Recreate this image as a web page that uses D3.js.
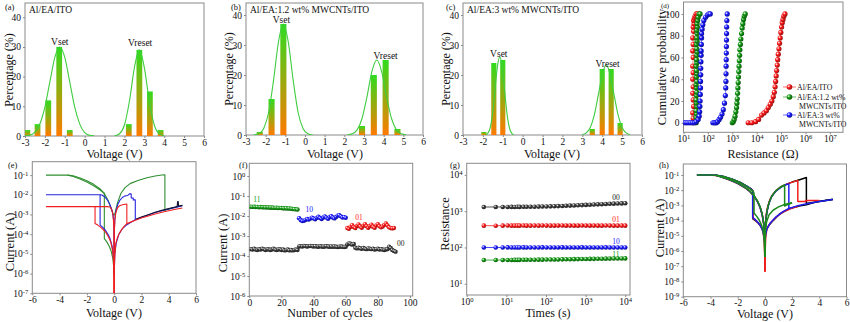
<!DOCTYPE html>
<html>
<head>
<meta charset="utf-8">
<script src="https://cdn.jsdelivr.net/npm/d3@7/dist/d3.min.js"></script>
<style>
body { margin: 0; background: #fff; }
svg { display: block; }
</style>
</head>
<body>
<svg id="chart" width="850" height="322"></svg>
<script>
/* DATA
 */

// (a)-(c) switching voltage histograms, [voltage, percentage]
const voltageTicks = [-3, -2, -1, 0, 1, 2, 3, 4, 5, 6];
const percentTicks = [0, 10, 20, 30, 40];

const barsA = [[-2.88, 2], [-2.37, 4], [-1.83, 12], [-1.28, 30], [-0.75, 2],
               [2.22, 4], [2.75, 29], [3.28, 15], [3.82, 2]];
const fitSetA = [[-3, 0.1], [-2.75, 0.3], [-2.5, 1.3], [-2.25, 4.1], [-2, 9.7], [-1.75, 18.2],
                 [-1.5, 26.5], [-1.25, 30], [-1, 26.5], [-0.75, 18.2], [-0.5, 9.7],
                 [-0.25, 4.1], [0, 1.1], [0.25, 0.2], [0.5, 0]];
const fitResetA = [[1.5, 0], [1.75, 0.75], [2, 3.7], [2.25, 11.7], [2.5, 23], [2.75, 29],
                   [3, 23], [3.25, 11.7], [3.5, 3.7], [3.75, 0.75], [4, 0.1]];
const peakTextA = [["Vset", -1.25, 30.6], ["Vreset", 2.79, 30.3]];

const barsB = [[-2.3, 1], [-1.7, 12], [-1.1, 37], [2.9, 3], [3.5, 20], [4.1, 25], [4.7, 2]];
const fitSetB = [[-2.6, 0.05], [-2.35, 0.4], [-2.1, 2.2], [-1.85, 7.5], [-1.6, 18.2], [-1.35, 31],
                 [-1.1, 37], [-0.85, 31], [-0.6, 18.2], [-0.35, 7.5], [-0.1, 2.2],
                 [0.15, 0.4], [0.4, 0]];
const fitResetB = [[2.15, 0.1], [2.4, 0.4], [2.65, 1.7], [2.9, 5.5], [3.15, 12.7], [3.4, 21.1],
                   [3.65, 25], [3.9, 21.1], [4.15, 12.7], [4.4, 5.5], [4.65, 1.7],
                   [4.9, 0.4], [5.15, 0.1]];
const peakTextB = [["Vset", -1.2, 37.5], ["Vreset", 4.1, 25.3]];

const barsC = [[-1.95, 1], [-1.45, 24], [-1.0, 25], [3.5, 2], [4.0, 22], [4.45, 22], [4.9, 4]];
const fitSetC = [[-1.85, 0], [-1.75, 0.6], [-1.65, 2], [-1.55, 5.3], [-1.45, 10.9], [-1.35, 17.9],
                 [-1.25, 23.7], [-1.15, 26], [-1.05, 23.7], [-0.95, 17.9], [-0.85, 10.9],
                 [-0.75, 5.3], [-0.65, 2], [-0.55, 0.6], [-0.45, 0]];
const fitResetC = [[3.0, 0.15], [3.2, 0.7], [3.4, 2.5], [3.6, 6.6], [3.8, 13.2], [4.0, 20],
                   [4.2, 23.5], [4.4, 20], [4.6, 13.2], [4.8, 6.6], [5.0, 2.5],
                   [5.2, 0.7], [5.4, 0.15]];
const peakTextC = [["Vset", -1.2, 26], ["Vreset", 4.27, 22.7]];

// (d) cumulative probability, [resistance ohm, percent]
const resistanceTicks = [1e1, 1e2, 1e3, 1e4, 1e5, 1e6, 1e7];
const probTicks = [0, 20, 40, 60, 80, 100];
const dRedLRS = [[25, 0], [25, 4], [24, 9], [26, 15], [25, 21], [24, 27], [25, 33], [24, 40],
                 [25, 46], [24, 52], [25, 60], [24, 66], [25, 72], [24, 78], [26, 84], [25, 88],
                 [27, 91], [26, 94], [28, 96], [30, 98], [33, 100], [38, 100], [44, 100]];
const dRedHRS = [[4500, 0], [6300, 0], [9000, 1], [12000, 3], [16000, 7], [20000, 9], [25000, 11],
                 [30000, 14], [36000, 17], [42000, 20], [48000, 24], [53000, 28], [57000, 33],
                 [60000, 38], [63000, 43], [66000, 48], [70000, 53], [73000, 58], [77000, 63],
                 [82000, 68], [87000, 73], [92000, 78], [98000, 83], [105000, 88], [112000, 92],
                 [120000, 95], [130000, 98], [145000, 100]];
const dGreenLRS = [[33, 0], [35, 2], [33, 5], [34, 8], [33, 11], [35, 15], [34, 18], [33, 21],
                   [34, 25], [35, 28], [34, 32], [33, 35], [35, 38], [34, 42], [35, 45], [34, 48],
                   [33, 52], [35, 55], [34, 58], [35, 62], [36, 65], [35, 68], [34, 72], [36, 75],
                   [35, 78], [36, 82], [35, 85], [37, 88], [36, 91], [38, 94], [40, 97], [44, 100], [48, 100]];
const dGreenHRS = [[1000, 0], [1100, 1], [1200, 3], [1300, 6], [1400, 10], [1500, 14], [1550, 18],
                   [1600, 22], [1650, 27], [1700, 32], [1750, 37], [1800, 42], [1850, 47], [1900, 52],
                   [1950, 57], [2000, 62], [2050, 67], [2150, 72], [2250, 77], [2400, 82], [2550, 87],
                   [2700, 91], [2900, 95], [3100, 98], [3400, 100]];
const dBlueLRS = [[7, 0], [8.5, 0], [10, 0], [12, 0], [14, 0], [17, 0], [20, 0], [24, 0], [28, 0],
                  [33, 1], [40, 3], [44, 6], [46, 10], [47, 15], [48, 20], [49, 26], [50, 32],
                  [50, 38], [51, 44], [51, 50], [52, 56], [53, 62], [53, 66], [54, 72], [55, 78],
                  [55, 82], [58, 86], [62, 90], [68, 94], [80, 97], [95, 99], [110, 100], [125, 100]];
const dBlueHRS = [[160, 0], [180, 0], [200, 0], [220, 0], [250, 1], [290, 3], [330, 5], [380, 8],
                  [430, 12], [480, 18], [520, 25], [540, 32], [550, 38], [555, 45], [560, 52],
                  [565, 58], [570, 64], [575, 70], [580, 76], [585, 82], [590, 88], [600, 94], [620, 100]];
const dLegend = ["Al/EA/ITO", "Al/EA:1.2 wt%", "MWCNTs/ITO", "Al/EA:3 wt%", "MWCNTs/ITO"];

// (e) I-V sweeps, [voltage, current A]
const ivVoltageTicks = [-6, -4, -2, 0, 2, 4, 6];
const eCurrentTicks = [1e-7, 1e-6, 1e-5, 1e-4, 1e-3, 1e-2, 1e-1];
const eGreenA = [[-5, 0.1], [-3.4, 0.1], [-3, 0.092], [-2.5, 0.072], [-2, 0.051], [-1.5, 0.034],
                 [-1, 0.019], [-0.7, 0.011], [-0.42, 4.8e-3], [-0.2, 1.8e-3], [-0.08, 1.1e-3], [0, 9e-4]];
const eGreenB = [[-3.4, 0.1], [-3, 0.084], [-2.5, 0.063], [-2, 0.045], [-1.5, 0.029], [-1, 0.017],
                 [-0.72, 0.012], [-0.72, 6e-5], [-0.55, 4.2e-5], [-0.38, 2.6e-5], [-0.22, 1.4e-5],
                 [-0.1, 6e-6], [-0.03, 2e-6], [0, 8e-7]];
const eGreenC = [[0, 9e-4], [0.05, 1.1e-3], [0.12, 1.7e-3], [0.25, 4e-3], [0.5, 1.2e-2], [0.8, 2.3e-2],
                 [1.2, 3.8e-2], [1.8, 5.5e-2], [2.4, 7.4e-2], [3, 9e-2], [3.5, 0.101], [3.72, 0.105],
                 [3.72, 1.65e-3], [4.2, 2.1e-3], [4.6, 2.5e-3], [5, 2.9e-3]];
const eBlueA = [[-5, 1e-2], [-3, 1e-2], [-1.03, 1e-2], [-0.9, 9.8e-3], [-0.7, 8e-3], [-0.5, 5.5e-3],
                [-0.35, 3.6e-3], [-0.22, 2.2e-3], [-0.12, 1.3e-3], [-0.05, 6e-4], [-0.015, 1.5e-4], [0, 5e-6]];
const eBlueB = [[-1.03, 1e-2], [-1.03, 2.9e-4], [-0.85, 2.3e-4], [-0.65, 1.6e-4], [-0.45, 1e-4],
                [-0.3, 6e-5], [-0.15, 2.5e-5], [-0.06, 8e-6], [0, 1e-6]];
const eBlueC = [[0, 5e-6], [0.015, 1.5e-4], [0.05, 6e-4], [0.12, 1.4e-3], [0.25, 3e-3], [0.4, 5e-3],
                [0.6, 7.3e-3], [0.8, 8.8e-3], [1.0, 9.3e-3], [1.15, 1.15e-2], [1.25, 1.1e-2],
                [1.25, 7e-3], [1.4, 6.8e-3], [1.4, 5.5e-3], [1.55, 5.5e-3], [1.55, 5.5e-4],
                [2, 7.2e-4], [2.5, 9.5e-4], [3, 1.25e-3], [3.5, 1.55e-3], [4, 1.9e-3], [4.5, 2.3e-3], [5, 2.8e-3]];
const eBlueD = [[0, 1e-6], [0.05, 1e-5], [0.15, 3.5e-5], [0.35, 1e-4], [0.6, 1.9e-4], [0.9, 2.9e-4],
                [1.2, 3.9e-4], [1.55, 5.5e-4]];
const eRedA = [[-5, 2.5e-3], [-3, 2.5e-3], [-1.4, 2.5e-3], [-0.5, 2.5e-3], [-0.3, 2.4e-3], [-0.18, 1.8e-3],
               [-0.1, 1.1e-3], [-0.05, 5e-4], [-0.02, 1.5e-4], [0, 1e-7]];
const eRedB = [[-1.4, 2.5e-3], [-1.4, 3.5e-4], [-1.2, 2.9e-4], [-1.0, 2.3e-4], [-0.8, 1.7e-4],
               [-0.6, 1.2e-4], [-0.4, 7e-5], [-0.25, 4e-5], [-0.12, 1.6e-5], [-0.05, 5e-6],
               [-0.02, 1e-6], [0, 1e-7]];
const eRedC = [[0, 1e-7], [0.02, 1.5e-4], [0.05, 5e-4], [0.12, 1.2e-3], [0.25, 2.2e-3], [0.4, 2.8e-3],
               [0.6, 3.1e-3], [0.8, 3.3e-3], [0.93, 3.4e-3], [0.93, 3.4e-4], [1.2, 4.1e-4],
               [1.6, 5.3e-4], [2, 6.6e-4], [2.5, 8.4e-4], [3, 1.05e-3], [3.5, 1.3e-3], [4, 1.55e-3],
               [4.5, 1.85e-3], [5, 2.15e-3]];
const eRedD = [[0, 1e-7], [0.02, 2e-6], [0.05, 8e-6], [0.12, 3.4e-5], [0.25, 7e-5], [0.37, 1.07e-4],
               [0.55, 1.7e-4], [0.73, 2.5e-4], [0.93, 3.4e-4]];
const eBlack = [[1.6, 5.7e-4], [2, 7.4e-4], [2.5, 9.8e-4], [3, 1.3e-3], [3.5, 1.62e-3], [4, 1.98e-3],
                [4.5, 2.4e-3], [4.62, 2.5e-3], [4.65, 4.6e-3], [4.7, 4.6e-3], [4.72, 2.6e-3], [5, 2.9e-3]];

// (f) endurance, current per cycle
const cycleTicks = [0, 20, 40, 60, 80, 100];
const fCurrentTicks = [1e-6, 1e-5, 1e-4, 1e-3, 1e-2, 1e-1, 1e0];
const fStart11 = 1, fStart10 = 31, fStart01 = 61, fStart00 = 1;
const f11 = [0.029, 0.0285, 0.029, 0.028, 0.0285, 0.0275, 0.028, 0.027, 0.0275, 0.027, 0.0265, 0.027,
             0.026, 0.0265, 0.026, 0.0255, 0.026, 0.025, 0.0255, 0.025, 0.0245, 0.024, 0.0245, 0.0235,
             0.024, 0.023, 0.0225, 0.022, 0.0215, 0.021];
const f10 = [0.0078, 0.0063, 0.0056, 0.0058, 0.0064, 0.0071, 0.0066, 0.0074, 0.0083, 0.0076, 0.0069,
             0.0081, 0.0091, 0.0079, 0.0071, 0.0084, 0.0095, 0.0083, 0.0073, 0.0086, 0.0097, 0.0084,
             0.0076, 0.0089, 0.0104, 0.0110, 0.0096, 0.0084, 0.0088, 0.0082];
const f01 = [0.0025, 0.0023, 0.0029, 0.0035, 0.0028, 0.0025, 0.0032, 0.0038, 0.0030, 0.0026, 0.0033,
             0.0039, 0.0031, 0.0026, 0.0031, 0.0037, 0.0029, 0.0026, 0.0034, 0.0039, 0.0031, 0.0027,
             0.0030, 0.0036, 0.0042, 0.0034, 0.0027, 0.0025, 0.0024, 0.0025];
const f00 = [2.2e-4, 2.1e-4, 2.3e-4, 2.1e-4, 2.0e-4, 2.2e-4, 2.1e-4, 2.3e-4, 2.2e-4, 2.0e-4, 2.1e-4,
             2.2e-4, 2.0e-4, 2.1e-4, 2.3e-4, 2.1e-4, 2.0e-4, 2.1e-4, 2.2e-4, 2.0e-4, 2.1e-4, 1.9e-4,
             2.0e-4, 2.1e-4, 1.9e-4, 2.0e-4, 1.9e-4, 2.0e-4, 2.1e-4, 2.0e-4,
             3.0e-4, 3.1e-4, 3.0e-4, 3.2e-4, 3.1e-4, 3.0e-4, 3.1e-4, 3.2e-4, 3.1e-4, 3.0e-4, 3.1e-4,
             3.0e-4, 2.9e-4, 3.1e-4, 3.0e-4, 2.9e-4, 3.0e-4, 3.1e-4, 3.0e-4, 2.9e-4, 3.0e-4, 2.9e-4,
             3.0e-4, 2.9e-4, 2.8e-4, 2.9e-4, 3.0e-4, 2.9e-4, 2.8e-4, 2.9e-4,
             3.8e-4, 4.3e-4, 4.1e-4, 3.7e-4, 4.0e-4, 2.6e-4, 2.4e-4, 2.6e-4, 2.4e-4, 2.3e-4, 2.5e-4,
             2.3e-4, 2.2e-4, 2.4e-4, 2.3e-4, 2.2e-4, 2.3e-4, 2.1e-4, 2.2e-4, 2.3e-4, 2.1e-4, 2.2e-4,
             2.1e-4, 2.0e-4, 2.1e-4, 2.2e-4, 2.9e-4, 2.5e-4, 2.0e-4, 1.8e-4, 1.65e-4];
const fLabels = [["11", 2.5, 0.05], ["10", 35, 1.6e-2], ["01", 66, 6.5e-3], ["00", 92, 3e-4]];

// (g) retention, resistance over time
const timeTicks = [1e0, 1e1, 1e2, 1e3, 1e4];
const gResTicks = [1e1, 1e2, 1e3, 1e4];
const gTimes = [2.7, 5.4, 8.1, 10.8, 13.5, 16.2, 18.9, 21.6, 27, 32.4, 40.5, 51.3, 64.8, 81, 102.6,
                129.6, 162, 202.5, 256.5, 321.3, 405, 510.3, 642.6, 810, 1020.6, 1285.2, 1620,
                2040.3, 2570.4, 3237.3, 4077, 5135.4, 6466.5, 8143.2, 10000];
const g00 = [1300, 1310, 1305, 1310, 1315, 1310, 1320, 1315, 1320, 1325, 1330, 1330, 1340, 1345, 1350,
             1360, 1370, 1380, 1395, 1410, 1425, 1440, 1455, 1470, 1490, 1510, 1525, 1545, 1560,
             1580, 1600, 1615, 1630, 1640, 1650];
const g01 = [400, 398, 400, 402, 400, 399, 401, 400, 402, 400, 399, 401, 400, 402, 401, 400, 399, 401,
             402, 400, 401, 399, 400, 402, 401, 400, 401, 399, 400, 402, 401, 400, 399, 401, 400];
const g10 = [100, 99.5, 100, 100.5, 100, 99.8, 100.2, 100, 100.4, 100, 99.7, 100.2, 100, 100.3, 100.1,
             100, 99.8, 100.2, 100.4, 100, 100.2, 99.8, 100, 100.4, 100.2, 100, 100.2, 99.8, 100,
             100.4, 100.2, 100, 99.8, 100.2, 100];
const g11 = [45, 45, 45.2, 45.3, 45.3, 45.5, 45.4, 45.6, 45.7, 45.8, 45.9, 46, 46.1, 46.2, 46.4, 46.5,
             46.7, 46.8, 47, 47.2, 47.4, 47.6, 47.8, 48, 48.2, 48.4, 48.6, 48.8, 49, 49.2, 49.4,
             49.5, 49.7, 49.8, 50];
const gLabels = [["00", 4700, 2040], ["01", 4700, 490], ["10", 4700, 126], ["11", 4700, 54]];

// (h) I-V sweeps of the four states
const hCurrentTicks = [1e-9, 1e-8, 1e-7, 1e-6, 1e-5, 1e-4, 1e-3, 1e-2, 1e-1];
const hBlackNegA = [[-5, 0.1], [-4, 0.1], [-3.6, 0.097], [-3, 0.078], [-2.4, 0.053], [-1.8, 0.032],
                    [-1.3, 0.018], [-1.0, 0.012], [-0.88, 9e-3]];
const hBlackNegB = [[-0.88, 9e-3], [-0.88, 1.3e-4], [-0.7, 1e-4], [-0.5, 7e-5], [-0.32, 4.5e-5],
                    [-0.18, 2.8e-5], [-0.07, 1.6e-5], [0, 1e-5]];
const hBlackNegC = [[-3.6, 0.097], [-3, 0.066], [-2.5, 0.046], [-2, 0.029], [-1.5, 0.016], [-1.1, 8.5e-3],
                    [-0.8, 4.2e-3], [-0.55, 1.9e-3], [-0.35, 7.5e-4], [-0.2, 2.6e-4], [-0.09, 7e-5],
                    [-0.03, 2.2e-5], [0, 1e-5]];
const hBlackPos = [[0, 1e-5], [0.03, 3.5e-5], [0.08, 1.3e-4], [0.15, 4e-4], [0.3, 1.5e-3], [0.5, 4e-3],
                   [0.8, 9e-3], [1.2, 1.7e-2], [1.6, 2.5e-2], [2, 3.4e-2], [2.5, 4.7e-2], [3.0, 6.6e-2],
                   [3.05, 6.8e-2], [3.05, 1.35e-3], [3.5, 1.55e-3], [4, 1.8e-3], [4.5, 2.1e-3], [5, 2.4e-3]];
const hBlackHRS = [[0, 1e-5], [0.1, 2.3e-5], [0.3, 5e-5], [0.6, 1e-4], [1.1, 2.8e-4], [1.8, 6e-4],
                   [2.5, 9e-4], [3.05, 1.1e-3], [3.8, 1.7e-3], [4.5, 2.2e-3], [5, 2.5e-3]];
const hRedNegA = [[-5, 0.1], [-4, 0.098], [-3.5, 0.09], [-3, 0.072], [-2.4, 0.05], [-1.8, 0.03],
                  [-1.3, 0.017], [-1.0, 0.011], [-0.86, 8.5e-3]];
const hRedNegB = [[-0.86, 8.5e-3], [-0.86, 1.4e-4], [-0.65, 1e-4], [-0.45, 6.5e-5], [-0.28, 3.8e-5],
                  [-0.15, 2e-5], [-0.06, 6e-6], [-0.02, 1e-6], [0, 4.5e-8]];
const hRedNegC = [[-3.5, 0.09], [-3, 0.062], [-2.5, 0.043], [-2, 0.027], [-1.5, 0.015], [-1.1, 8e-3],
                  [-0.8, 4e-3], [-0.55, 1.8e-3], [-0.35, 7e-4], [-0.2, 2.4e-4], [-0.09, 6e-5],
                  [-0.03, 1e-5], [0, 4.5e-8]];
const hRedPos = [[0, 4.5e-8], [0.02, 1e-5], [0.05, 8e-5], [0.1, 2.8e-4], [0.2, 8e-4], [0.35, 2.2e-3],
                 [0.6, 5.5e-3], [0.9, 1.1e-2], [1.3, 1.9e-2], [1.8, 2.9e-2], [2.2, 3.8e-2],
                 [2.42, 4.3e-2], [2.42, 1.8e-3], [3.0, 1.8e-3], [3.0, 2.1e-3], [4.0, 2.1e-3]];
const hRedHRS = [[0, 4.5e-8], [0.02, 1e-6], [0.06, 8e-6], [0.15, 3e-5], [0.4, 7e-5], [0.8, 1.6e-4],
                 [1.4, 4e-4], [2, 6.8e-4], [2.42, 8.5e-4]];
const hBlueNegA = [[-5, 0.1], [-4, 0.1], [-3.6, 0.096], [-3, 0.076], [-2.4, 0.052], [-1.8, 0.031],
                   [-1.3, 0.0175], [-1.0, 0.0115], [-0.9, 9.5e-3]];
const hBlueNegB = [[-0.9, 9.5e-3], [-0.9, 1.6e-4], [-0.7, 1.15e-4], [-0.5, 7.5e-5], [-0.32, 4.5e-5],
                   [-0.16, 2.2e-5], [-0.06, 8e-6], [0, 3e-6]];
const hBlueNegC = [[-3.6, 0.096], [-3, 0.064], [-2.5, 0.045], [-2, 0.028], [-1.5, 0.0155], [-1.1, 8.2e-3],
                   [-0.8, 4.1e-3], [-0.55, 1.85e-3], [-0.35, 7.2e-4], [-0.2, 2.5e-4], [-0.09, 6.5e-5],
                   [-0.03, 1.5e-5], [0, 3e-6]];
const hBluePos = [[0, 3e-6], [0.03, 3e-5], [0.08, 1.2e-4], [0.15, 3.8e-4], [0.3, 1.4e-3], [0.5, 3.8e-3],
                  [0.8, 8.5e-3], [1.2, 1.6e-2], [1.5, 2.2e-2], [1.76, 2.6e-2], [1.76, 6.3e-4],
                  [2.5, 1e-3], [3, 1.25e-3], [3.5, 1.5e-3], [4, 1.8e-3], [4.5, 2.1e-3], [5, 2.4e-3]];
const hBlueHRS = [[0, 3e-6], [0.05, 1.2e-5], [0.15, 3e-5], [0.4, 7e-5], [0.8, 1.7e-4], [1.3, 3.7e-4],
                  [1.76, 6.3e-4]];
const hGreenNegA = [[-5, 0.1], [-4, 0.1], [-3.6, 0.096], [-3, 0.077], [-2.4, 0.052], [-1.8, 0.031],
                    [-1.3, 0.017], [-1.0, 0.0105], [-0.8, 7e-3]];
const hGreenNegB = [[-0.8, 7e-3], [-0.8, 3.2e-4], [-0.6, 1.9e-4], [-0.42, 1.1e-4], [-0.26, 5.5e-5],
                    [-0.13, 2.2e-5], [-0.05, 6e-6], [0, 4e-7]];
const hGreenNegC = [[-3.6, 0.096], [-3, 0.065], [-2.5, 0.046], [-2, 0.029], [-1.5, 0.016], [-1.1, 8.5e-3],
                    [-0.8, 4.3e-3], [-0.55, 2e-3], [-0.35, 8e-4], [-0.2, 2.8e-4], [-0.09, 7e-5],
                    [-0.03, 1.2e-5], [0, 4e-7]];
const hGreenPos = [[0, 4e-7], [0.03, 3e-5], [0.08, 1.3e-4], [0.15, 4.2e-4], [0.3, 1.5e-3], [0.5, 4e-3],
                   [0.8, 9e-3], [1.1, 1.5e-2], [1.45, 2.2e-2], [1.45, 9e-4], [1.75, 1.2e-3], [2, 1.5e-3]];
const hGreenHRS = [[0, 4e-7], [0.04, 2e-5], [0.12, 8e-5], [0.3, 2.3e-4], [0.6, 4.8e-4], [1.0, 8e-4],
                   [1.5, 1.2e-3], [2, 1.5e-3]];

/* SETUP
 */

const FONT = "'Liberation Serif','Times New Roman',serif";
const svg = d3.select("#chart");
const defs = svg.append("defs");

const barFill = defs.append("linearGradient").attr("id", "barFill")
      .attr("x1", 0).attr("y1", 0).attr("x2", 0).attr("y2", 1);
barFill.append("stop").attr("offset", 0).attr("stop-color", "#2fdc1f");
barFill.append("stop").attr("offset", 1).attr("stop-color", "#ff7a00");

function ball(id, col) {
    const g = defs.append("radialGradient").attr("id", id)
	  .attr("cx", 0.35).attr("cy", 0.35).attr("r", 0.7);
    g.append("stop").attr("offset", 0).attr("stop-color", "#ffffff");
    g.append("stop").attr("offset", 0.4).attr("stop-color", col);
    g.append("stop").attr("offset", 1).attr("stop-color", d3.color(col).darker(1.5));
}
ball("ballRed", "#ff1a1a");
ball("ballGreen", "#139913");
ball("ballBlue", "#1a1aff");
ball("ballBlack", "#3a3a3a");

function powLabels(axis) {
    axis.selectAll(".tick text").each(function(d) {
	const t = d3.select(this).text("10");
	t.append("tspan").attr("dy", "-0.45em").attr("font-size", "70%")
	    .text(String(Math.round(Math.log10(d))));
    });
}

let clipCount = 0;
function panel(box, x, y, xTicks, yTicks) {
    x.range([box.l, box.r]);
    y.range([box.b, box.t]);
    const g = svg.append("g");
    const id = "clip" + (clipCount++);
    defs.append("clipPath").attr("id", id).append("rect")
	.attr("x", box.l).attr("y", box.t)
	.attr("width", box.r - box.l).attr("height", box.b - box.t);

    const xa = g.append("g").attr("transform", `translate(0,${box.b})`)
	  .call(d3.axisBottom(x).tickValues(xTicks).tickSize(2).tickPadding(1).tickFormat(String));
    const ya = g.append("g").attr("transform", `translate(${box.l},0)`)
	  .call(d3.axisLeft(y).tickValues(yTicks).tickSize(2).tickPadding(2).tickFormat(String));
    [xa, ya].forEach(function(a) {
	a.attr("font-family", FONT).attr("font-size", 9.5);
	a.select(".domain").remove();
	a.selectAll(".tick line").attr("stroke", "#888");
	a.selectAll(".tick text").attr("fill", "#111");
    });
    if (x.base) powLabels(xa);
    if (y.base) powLabels(ya);

    g.append("rect")
	.attr("x", box.l).attr("y", box.t)
	.attr("width", box.r - box.l).attr("height", box.b - box.t)
	.attr("fill", "none").attr("stroke", "#8a8a8a").attr("stroke-width", 1);
    const plot = g.append("g").attr("clip-path", `url(#${id})`);
    return { g: g, plot: plot };
}

function text(x, y, str, size, opt) {
    opt = opt || {};
    const t = svg.append("text")
	  .attr("x", x).attr("y", y)
	  .attr("font-family", FONT).attr("font-size", size)
	  .attr("fill", opt.fill || "#111")
	  .attr("text-anchor", opt.anchor || "start")
	  .text(str);
    if (opt.rotate) t.attr("transform", `rotate(-90,${x},${y})`);
    return t;
}

/* HISTOGRAMS (a)-(c)
 */

function drawHist(box, bars, barW, fits, peaks) {
    const x = d3.scaleLinear().domain([-3, 6]);
    const y = d3.scaleLinear().domain(box.yDomain);
    const p = panel(box, x, y, voltageTicks, percentTicks);

    p.plot.selectAll(".bar").data(bars).enter().append("rect")
	.attr("x", (d) => x(d[0] - barW / 2))
	.attr("width", (d) => x(d[0] + barW / 2) - x(d[0] - barW / 2))
	.attr("y", (d) => y(d[1]))
	.attr("height", (d) => y(0) - y(d[1]))
	.attr("fill", "url(#barFill)");

    const line = d3.line().x((d) => x(d[0])).y((d) => y(d[1])).curve(d3.curveMonotoneX);
    fits.forEach(function(f) {
	p.plot.append("path").attr("d", line(f))
	    .attr("fill", "none").attr("stroke", "#3fcc3f").attr("stroke-width", 1.1);
    });
    peaks.forEach(function(pk) {
	text(x(pk[1]), y(pk[2]), pk[0], 9.5, { anchor: "middle" });
    });
}

drawHist({ l: 25, r: 204, t: 3, b: 136, yDomain: [0, 44.8] }, barsA, 0.29, [fitSetA, fitResetA], peakTextA);
drawHist({ l: 246, r: 423, t: 3, b: 135, yDomain: [0, 44] }, barsB, 0.31, [fitSetB, fitResetB], peakTextB);
drawHist({ l: 463, r: 642, t: 3, b: 135, yDomain: [0, 44] }, barsC, 0.26, [fitSetC, fitResetC], peakTextC);

text(5, 10, "(a)", 8.5);
text(29, 13, "Al/EA/ITO", 9.5);
text(231, 10, "(b)", 8.5);
text(250, 13, "Al/EA:1.2 wt% MWCNTs/ITO", 9.5);
text(446, 10, "(c)", 8.5);
text(467, 13, "Al/EA:3 wt% MWCNTs/ITO", 9.5);
[[13, 70], [233, 69], [450, 69]].forEach(function(c) {
    text(c[0], c[1], "Percentage (%)", 12, { anchor: "middle", rotate: true });
});
text(114.5, 157.5, "Voltage (V)", 12, { anchor: "middle" });
text(335, 157.5, "Voltage (V)", 12, { anchor: "middle" });
text(552, 157.5, "Voltage (V)", 12, { anchor: "middle" });

/* CUMULATIVE PROBABILITY (d)
 */

(function() {
    const box = { l: 683.5, r: 843, t: 2, b: 132.3 };
    const x = d3.scaleLog().domain([10, Math.pow(10, 7.54)]);
    const y = d3.scaleLinear().domain([-8.8, 111]);
    const p = panel(box, x, y, resistanceTicks, probTicks);
    const series = [
	{ pts: dRedLRS, col: "#ff3030", ball: "ballRed" },
	{ pts: dRedHRS, col: "#ff3030", ball: "ballRed" },
	{ pts: dGreenLRS, col: "#2a9a2a", ball: "ballGreen" },
	{ pts: dGreenHRS, col: "#2a9a2a", ball: "ballGreen" },
	{ pts: dBlueLRS, col: "#3030ff", ball: "ballBlue" },
	{ pts: dBlueHRS, col: "#3030ff", ball: "ballBlue" }
    ];
    const line = d3.line().x((d) => x(d[0])).y((d) => y(d[1]));
    series.forEach(function(s) {
	p.plot.append("path").attr("d", line(s.pts))
	    .attr("fill", "none").attr("stroke", s.col).attr("stroke-width", 0.7).attr("opacity", 0.8);
	p.plot.selectAll(null).data(s.pts).enter().append("circle")
	    .attr("cx", (d) => x(d[0])).attr("cy", (d) => y(d[1])).attr("r", 2.6)
	    .attr("fill", `url(#${s.ball})`);
    });

    // legend
    const leg = [[87, "#ff3030", "ballRed"], [97, "#2a9a2a", "ballGreen"], [115, "#3030ff", "ballBlue"]];
    leg.forEach(function(l) {
	svg.append("line").attr("x1", 783).attr("x2", 796).attr("y1", l[0]).attr("y2", l[0])
	    .attr("stroke", l[1]).attr("stroke-width", 0.7);
	svg.append("circle").attr("cx", 789.5).attr("cy", l[0]).attr("r", 2.8).attr("fill", `url(#${l[2]})`);
    });
    text(797, 90, dLegend[0], 7.8);
    text(797, 100, dLegend[1], 7.8);
    text(799, 109, dLegend[2], 7.8);
    text(797, 118, dLegend[3], 7.8);
    text(799, 127, dLegend[4], 7.8);

    text(661, 8, "(d)", 7);
    text(666, 67, "Cumulative probability", 12.5, { anchor: "middle", rotate: true });
    text(763, 157.5, "Resistance (\u03A9)", 12, { anchor: "middle" });
})();

/* I-V (e)
 */

function drawCurves(p, x, y, curves, width) {
    const line = d3.line().x((d) => x(d[0])).y((d) => y(d[1]));
    curves.forEach(function(c) {
	c.segs.forEach(function(s) {
	    p.plot.append("path").attr("d", line(s))
		.attr("fill", "none").attr("stroke", c.col)
		.attr("stroke-width", width).attr("stroke-linejoin", "round");
	});
    });
}

(function() {
    const box = { l: 32.3, r: 196, t: 161.7, b: 293.3 };
    const x = d3.scaleLinear().domain([-6, 6]);
    const y = d3.scaleLog().domain([1e-7, Math.pow(10, -0.32)]);
    const p = panel(box, x, y, ivVoltageTicks, eCurrentTicks);
    drawCurves(p, x, y, [
	{ col: "#2f8f2f", segs: [eGreenA, eGreenB, eGreenC] },
	{ col: "#2525e0", segs: [eBlueA, eBlueB, eBlueC, eBlueD] },
	{ col: "#141434", segs: [eBlack] },
	{ col: "#f01e1e", segs: [eRedA, eRedB, eRedC, eRedD] }
    ], 1.1);
    text(8, 168, "(e)", 8.5);
    text(14, 242, "Current (A)", 12.5, { anchor: "middle", rotate: true });
    text(114, 316.5, "Voltage (V)", 12, { anchor: "middle" });
})();

/* ENDURANCE (f)
 */

(function() {
    const box = { l: 249.3, r: 412.7, t: 163.3, b: 296 };
    const x = d3.scaleLinear().domain([0, 101.7]);
    const y = d3.scaleLog().domain([1e-6, Math.pow(10, 0.635)]);
    const p = panel(box, x, y, cycleTicks, fCurrentTicks);
    const series = [
	{ vals: f00, start: fStart00, col: "#222", ball: "ballBlack" },
	{ vals: f11, start: fStart11, col: "#139913", ball: "ballGreen" },
	{ vals: f10, start: fStart10, col: "#1a1aff", ball: "ballBlue" },
	{ vals: f01, start: fStart01, col: "#ff1a1a", ball: "ballRed" }
    ];
    series.forEach(function(s) {
	const line = d3.line().x((d, i) => x(s.start + i)).y((d) => y(d));
	p.plot.append("path").attr("d", line(s.vals))
	    .attr("fill", "none").attr("stroke", s.col).attr("stroke-width", 0.8);
	p.plot.selectAll(null).data(s.vals).enter().append("circle")
	    .attr("cx", (d, i) => x(s.start + i)).attr("cy", (d) => y(d)).attr("r", 2.2)
	    .attr("fill", `url(#${s.ball})`);
    });
    const cols = { "11": "#139913", "10": "#1a1aff", "01": "#ff1a1a", "00": "#222" };
    fLabels.forEach(function(l) {
	text(x(l[1]), y(l[2]), l[0], 7.5, { fill: cols[l[0]] });
    });
    text(239, 168, "(f)", 8.5);
    text(227, 243, "Current (A)", 12.5, { anchor: "middle", rotate: true });
    text(330, 317, "Number of cycles", 12, { anchor: "middle" });
})();

/* RETENTION (g)
 */

(function() {
    const box = { l: 466.7, r: 630, t: 163.3, b: 295 };
    const x = d3.scaleLog().domain([1, Math.pow(10, 4.12)]);
    const y = d3.scaleLog().domain([Math.pow(10, 0.69), Math.pow(10, 4.32)]);
    const p = panel(box, x, y, timeTicks, gResTicks);
    const series = [
	{ vals: g00, col: "#222", ball: "ballBlack" },
	{ vals: g01, col: "#ff1a1a", ball: "ballRed" },
	{ vals: g10, col: "#1a1aff", ball: "ballBlue" },
	{ vals: g11, col: "#139913", ball: "ballGreen" }
    ];
    series.forEach(function(s) {
	const line = d3.line().x((d, i) => x(gTimes[i])).y((d) => y(d));
	p.plot.append("path").attr("d", line(s.vals))
	    .attr("fill", "none").attr("stroke", s.col).attr("stroke-width", 0.8);
	p.plot.selectAll(null).data(s.vals).enter().append("circle")
	    .attr("cx", (d, i) => x(gTimes[i])).attr("cy", (d) => y(d)).attr("r", 2.3)
	    .attr("fill", `url(#${s.ball})`);
    });
    const cols = { "11": "#139913", "10": "#1a1aff", "01": "#ff1a1a", "00": "#222" };
    gLabels.forEach(function(l) {
	text(x(l[1]), y(l[2]), l[0], 7.5, { fill: cols[l[0]] });
    });
    text(450, 168, "(g)", 8.5);
    text(449, 224, "Resistance", 12.5, { anchor: "middle", rotate: true });
    text(548, 317, "Times (s)", 12, { anchor: "middle" });
})();

/* I-V (h)
 */

(function() {
    const box = { l: 683.3, r: 846.5, t: 164, b: 296.7 };
    const x = d3.scaleLinear().domain([-6, 6]);
    const y = d3.scaleLog().domain([1e-9, Math.pow(10, -0.28)]);
    const p = panel(box, x, y, ivVoltageTicks, hCurrentTicks);
    drawCurves(p, x, y, [
	{ col: "#000000", segs: [hBlackNegA, hBlackNegB, hBlackNegC, hBlackPos, hBlackHRS] },
	{ col: "#f01e1e", segs: [hRedNegA, hRedNegB, hRedNegC, hRedPos, hRedHRS] },
	{ col: "#1e1ef0", segs: [hBlueNegA, hBlueNegB, hBlueNegC, hBluePos, hBlueHRS] },
	{ col: "#1a8a1a", segs: [hGreenNegA, hGreenNegB, hGreenNegC, hGreenPos, hGreenHRS] }
    ], 1.5);
    text(659, 168, "(h)", 8.5);
    text(664, 228, "Current (A)", 12.5, { anchor: "middle", rotate: true });
    text(765, 318, "Voltage (V)", 12, { anchor: "middle" });
})();
</script>
</body>
</html>
